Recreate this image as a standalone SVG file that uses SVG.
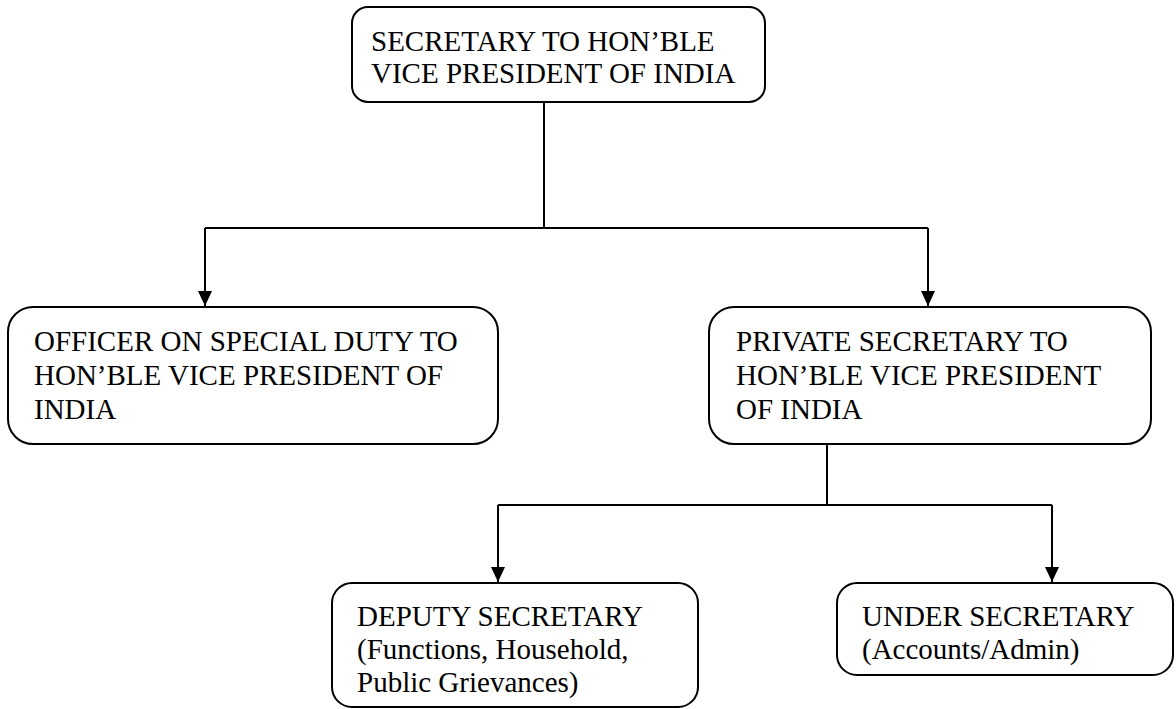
<svg xmlns="http://www.w3.org/2000/svg" width="1176" height="709" viewBox="0 0 1176 709">
<style>
.box{fill:#fff;stroke:#000;stroke-width:2}
.t{font-family:"Liberation Serif","Times New Roman",serif;font-size:29px;fill:#000}
.c{fill:none;stroke:#000;stroke-width:2}
</style>
<defs>
<marker id="ah" viewBox="0 0 15 14" refX="15" refY="7" markerWidth="15" markerHeight="14" markerUnits="userSpaceOnUse" orient="auto">
<path d="M0,0 L15,7 L0,14 Z" fill="#000"/>
</marker>
</defs>
<rect width="1176" height="709" fill="#fff"/>
<g id="connectors">
<path class="c" d="M544,102 V228"/>
<path class="c" d="M205,228 H928"/>
<path class="c" d="M205,228 V306" marker-end="url(#ah)"/>
<path class="c" d="M928,228 V306" marker-end="url(#ah)"/>
<path class="c" d="M827,444 V505"/>
<path class="c" d="M498,505 H1052"/>
<path class="c" d="M498,505 V582" marker-end="url(#ah)"/>
<path class="c" d="M1052,505 V582" marker-end="url(#ah)"/>
</g>
<g id="secretary">
<rect class="box" x="352" y="7" width="413" height="95" rx="16"/>
<text class="t" x="371" y="51">SECRETARY TO HON’BLE</text>
<text class="t" x="371" y="83">VICE PRESIDENT OF INDIA</text>
</g>
<g id="osd">
<rect class="box" x="8" y="307" width="490" height="137" rx="25"/>
<text class="t" x="34" y="351">OFFICER ON SPECIAL DUTY TO</text>
<text class="t" x="34" y="385">HON’BLE VICE PRESIDENT OF</text>
<text class="t" x="34" y="419">INDIA</text>
</g>
<g id="ps">
<rect class="box" x="709" y="307" width="442" height="137" rx="25"/>
<text class="t" x="736" y="351">PRIVATE SECRETARY TO</text>
<text class="t" x="736" y="385">HON’BLE VICE PRESIDENT</text>
<text class="t" x="736" y="419">OF INDIA</text>
</g>
<g id="ds">
<rect class="box" x="332" y="583" width="366" height="124" rx="20"/>
<text class="t" x="357" y="626">DEPUTY SECRETARY</text>
<text class="t" x="357" y="659">(Functions, Household,</text>
<text class="t" x="357" y="692">Public Grievances)</text>
</g>
<g id="us">
<rect class="box" x="837" y="583" width="336" height="92" rx="20"/>
<text class="t" x="862" y="626">UNDER SECRETARY</text>
<text class="t" x="862" y="659">(Accounts/Admin)</text>
</g>
</svg>
